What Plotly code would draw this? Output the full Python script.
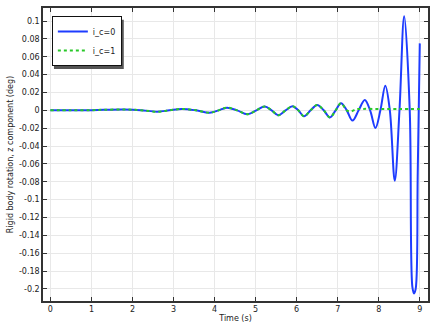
import plotly.graph_objects as go

# Blue series (i_c=0): extremes and zero crossings
t0 = [0.0, 0.5, 1.0, 1.3, 1.8, 2.2, 2.6, 2.9, 3.2, 3.55, 3.88, 4.1, 4.3, 4.55, 4.8, 5.02, 5.22,
      5.39, 5.55, 5.73, 5.9, 6.04, 6.18, 6.34, 6.5, 6.66, 6.81, 6.95, 7.08, 7.22, 7.36, 7.51,
      7.66, 7.79, 7.92, 8.04, 8.16, 8.27, 8.39, 8.505, 8.62, 8.755, 8.82, 8.86, 8.9, 8.95, 9.0]
y0 = [0.0, 0.0, 0.0002, 0.0006, 0.0009, 0.0002, -0.0015, 0.0, 0.0015, 0.0, -0.0026, 0.0, 0.003,
      0.0, -0.0043, 0.0, 0.0042, 0.0, -0.0055, 0.0, 0.0046, 0.0, -0.0066, 0.0, 0.006, 0.0,
      -0.008, 0.0, 0.008, 0.0, -0.0115, 0.0, 0.0117, 0.0, -0.0197, 0.0, 0.0275, 0.0, -0.0788,
      0.0, 0.1055, 0.0, -0.198, -0.205, -0.2, -0.07, 0.075]

# Green series (i_c=1): same until ~7.2 then nearly flat
t1 = [0.0, 0.5, 1.0, 1.3, 1.8, 2.2, 2.6, 2.9, 3.2, 3.55, 3.88, 4.1, 4.3, 4.55, 4.8, 5.02, 5.22,
      5.39, 5.55, 5.73, 5.9, 6.04, 6.18, 6.34, 6.5, 6.66, 6.81, 6.95, 7.08, 7.22, 7.32, 7.45,
      7.6, 8.0, 8.5, 9.0]
y1 = [0.0, 0.0, 0.0002, 0.0006, 0.0009, 0.0002, -0.0015, 0.0, 0.0015, 0.0, -0.0026, 0.0, 0.003,
      0.0, -0.0043, 0.0, 0.0042, 0.0, -0.0055, 0.0, 0.0046, 0.0, -0.0066, 0.0, 0.006, 0.0,
      -0.008, 0.0, 0.008, 0.0, -0.0012, 0.0012, 0.0016, 0.0016, 0.0016, 0.0016]

series_names = ["i_c=0", "i_c=1"]

x_ticks = [0, 1, 2, 3, 4, 5, 6, 7, 8, 9]
y_ticks = [0.1, 0.08, 0.06, 0.04, 0.02, 0, -0.02, -0.04, -0.06, -0.08, -0.1, -0.12, -0.14,
           -0.16, -0.18, -0.2]
y_ticktext = ["0.1", "0.08", "0.06", "0.04", "0.02", "0", "-0.02", "-0.04", "-0.06", "-0.08",
              "-0.1", "-0.12", "-0.14", "-0.16", "-0.18", "-0.2"]

fig = go.Figure()
fig.add_trace(go.Scatter(x=t0, y=y0, mode="lines", name=series_names[0],
                         line=dict(color="rgb(30,60,255)", width=2, shape="spline", smoothing=1.0)))
fig.add_trace(go.Scatter(x=t1, y=y1, mode="lines", name=series_names[1],
                         line=dict(color="rgb(40,200,40)", width=2, dash="dot", shape="spline",
                                   smoothing=1.0)))

axis_common = dict(showline=True, linecolor="#333333", linewidth=1.5, mirror="ticks",
                   ticks="inside", ticklen=4, tickcolor="#333333", showgrid=True,
                   gridcolor="#e8e8e8", gridwidth=1, zeroline=False,
                   tickfont=dict(family="DejaVu Sans", size=8, color="#222222"))

fig.update_layout(
    width=436, height=328,
    margin=dict(l=43, r=7, t=6, b=24),
    paper_bgcolor="white", plot_bgcolor="white",
    font=dict(family="DejaVu Sans", size=8, color="#222222"),
    xaxis=dict(range=[-0.18, 9.2], tickvals=x_ticks,
               title=dict(text="Time (s)", font=dict(size=8), standoff=2), **axis_common),
    yaxis=dict(range=[-0.2135, 0.1146], tickvals=y_ticks, ticktext=y_ticktext,
               title=dict(text="Rigid body rotation, z component (deg)", font=dict(size=8),
                          standoff=4), **axis_common),
    legend=dict(x=0.023, y=0.973, xanchor="left", yanchor="top", bgcolor="white",
                bordercolor="#111111", borderwidth=1, font=dict(size=8),
                tracegroupgap=0, itemwidth=30),
    showlegend=True,
)

# drop shadow behind the legend box
fig.add_shape(type="rect", xref="paper", yref="paper", x0=0.0285, x1=0.2098, y0=0.792, y1=0.960,
              fillcolor="#555555", line=dict(width=0), layer="above")

fig.write_html("out.html")
